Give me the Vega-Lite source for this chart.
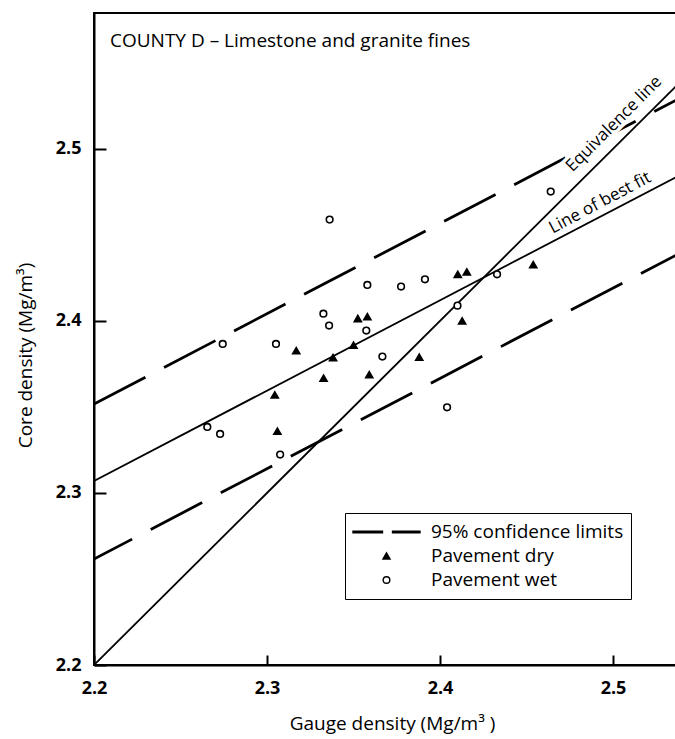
{
  "$schema": "https://vega.github.io/schema/vega-lite/v6.json",
  "width": 583,
  "height": 652,
  "autosize": {"type": "none"},
  "padding": {"left": 94, "top": 13, "right": 0, "bottom": 74},
  "background": "white",
  "view": {"stroke": "black", "strokeWidth": 2},
  "config": {"font": "Open Sans"},
  "title": {
    "text": "COUNTY D – Limestone and granite fines",
    "anchor": "start",
    "frame": "group",
    "orient": "top",
    "offset": -53,
    "dx": 16,
    "baseline": "alphabetic",
    "fontSize": 19,
    "fontWeight": "normal",
    "font": "Open Sans",
    "color": "black"
  },
  "datasets": {
    "lines": [
      {"line": "Equivalence line", "gauge": 2.2, "core": 2.2},
      {"line": "Equivalence line", "gauge": 2.537, "core": 2.537},
      {"line": "Line of best fit", "gauge": 2.2, "core": 2.307},
      {"line": "Line of best fit", "gauge": 2.537, "core": 2.4839},
      {"line": "Upper 95% limit", "gauge": 2.2, "core": 2.3517},
      {"line": "Upper 95% limit", "gauge": 2.537, "core": 2.5286},
      {"line": "Lower 95% limit", "gauge": 2.2, "core": 2.2616},
      {"line": "Lower 95% limit", "gauge": 2.537, "core": 2.4385}
    ],
    "points": [
      {"condition": "Pavement wet", "gauge": 2.3326, "core": 2.4042},
      {"condition": "Pavement wet", "gauge": 2.3359, "core": 2.3973},
      {"condition": "Pavement wet", "gauge": 2.2744, "core": 2.3866},
      {"condition": "Pavement wet", "gauge": 2.3052, "core": 2.3866},
      {"condition": "Pavement wet", "gauge": 2.2655, "core": 2.3384},
      {"condition": "Pavement wet", "gauge": 2.2729, "core": 2.3343},
      {"condition": "Pavement wet", "gauge": 2.3076, "core": 2.3223},
      {"condition": "Pavement wet", "gauge": 2.358, "core": 2.4209},
      {"condition": "Pavement wet", "gauge": 2.3775, "core": 2.42},
      {"condition": "Pavement wet", "gauge": 2.3913, "core": 2.4242},
      {"condition": "Pavement wet", "gauge": 2.433, "core": 2.4271},
      {"condition": "Pavement wet", "gauge": 2.3574, "core": 2.3944},
      {"condition": "Pavement wet", "gauge": 2.4101, "core": 2.4089},
      {"condition": "Pavement wet", "gauge": 2.3667, "core": 2.3793},
      {"condition": "Pavement wet", "gauge": 2.4041, "core": 2.3498},
      {"condition": "Pavement wet", "gauge": 2.464, "core": 2.4752},
      {"condition": "Pavement wet", "gauge": 2.3362, "core": 2.4589},
      {"condition": "Pavement dry", "gauge": 2.3169, "core": 2.3827},
      {"condition": "Pavement dry", "gauge": 2.3382, "core": 2.3787},
      {"condition": "Pavement dry", "gauge": 2.3327, "core": 2.3667},
      {"condition": "Pavement dry", "gauge": 2.3045, "core": 2.357},
      {"condition": "Pavement dry", "gauge": 2.306, "core": 2.3359},
      {"condition": "Pavement dry", "gauge": 2.4103, "core": 2.4271},
      {"condition": "Pavement dry", "gauge": 2.4155, "core": 2.4285},
      {"condition": "Pavement dry", "gauge": 2.3525, "core": 2.4014},
      {"condition": "Pavement dry", "gauge": 2.358, "core": 2.4025},
      {"condition": "Pavement dry", "gauge": 2.4128, "core": 2.4},
      {"condition": "Pavement dry", "gauge": 2.35, "core": 2.3859},
      {"condition": "Pavement dry", "gauge": 2.388, "core": 2.3789},
      {"condition": "Pavement dry", "gauge": 2.3591, "core": 2.3688},
      {"condition": "Pavement dry", "gauge": 2.4539, "core": 2.4327}
    ],
    "labelEquivalence": [{"gauge": 2.5006, "core": 2.5145, "label": "Equivalence line"}],
    "labelBestFit": [{"gauge": 2.4925, "core": 2.4686, "label": "Line of best fit"}]
  },
  "layer": [
    {
      "data": {"name": "lines"},
      "transform": [{"filter": "datum.line === 'Equivalence line' || datum.line === 'Line of best fit'"}],
      "mark": {"type": "line", "color": "black", "strokeWidth": 1.8, "clip": true},
      "encoding": {
        "x": {
          "field": "gauge", "type": "quantitative",
          "scale": {"domain": [2.2, 2.537], "nice": false, "zero": false},
          "axis": {
            "values": [2.2, 2.3, 2.4, 2.5], "format": ".1f", "grid": false,
            "domainColor": "black", "domainWidth": 2,
            "tickColor": "black", "tickWidth": 2, "tickSize": -10,
            "labelFont": "Open Sans", "labelFontSize": 18, "labelFontWeight": "bold", "labelColor": "black",
            "labelPadding": 24, "labelFlush": false,
            "title": "Gauge density (Mg/m³ )",
            "titleFont": "Open Sans", "titleFontSize": 19, "titleFontWeight": "normal", "titleColor": "black",
            "titleX": 298, "titleY": 58, "titleBaseline": "middle", "titleAlign": "center"
          }
        },
        "y": {
          "field": "core", "type": "quantitative",
          "scale": {"domain": [2.2, 2.579], "nice": false, "zero": false},
          "axis": {
            "values": [2.2, 2.3, 2.4, 2.5], "format": ".1f", "grid": false,
            "domainColor": "black", "domainWidth": 2,
            "tickColor": "black", "tickWidth": 2, "tickSize": -12,
            "labelFont": "Open Sans", "labelFontSize": 18, "labelFontWeight": "bold", "labelColor": "black",
            "labelPadding": 25, "labelFlush": false,
            "title": "Core density (Mg/m³)",
            "titleFont": "Open Sans", "titleFontSize": 19, "titleFontWeight": "normal", "titleColor": "black",
            "titleX": -69, "titleY": 342, "titleBaseline": "middle", "titleAlign": "center", "titleAngle": 270
          }
        },
        "detail": {"field": "line", "type": "nominal"}
      }
    },
    {
      "data": {"name": "lines"},
      "transform": [{"filter": "datum.line === 'Upper 95% limit'"}],
      "mark": {"type": "line", "color": "black", "strokeWidth": 2.8, "strokeDash": [58, 21], "strokeDashOffset": 0, "clip": true},
      "encoding": {
        "x": {"field": "gauge", "type": "quantitative"},
        "y": {"field": "core", "type": "quantitative"}
      }
    },
    {
      "data": {"name": "lines"},
      "transform": [{"filter": "datum.line === 'Lower 95% limit'"}],
      "mark": {"type": "line", "color": "black", "strokeWidth": 2.8, "strokeDash": [58, 21], "strokeDashOffset": 15, "clip": true},
      "encoding": {
        "x": {"field": "gauge", "type": "quantitative"},
        "y": {"field": "core", "type": "quantitative"}
      }
    },
    {
      "data": {"name": "points"},
      "mark": {"type": "point", "filled": true, "stroke": "black", "strokeWidth": 1.6, "opacity": 1},
      "encoding": {
        "x": {"field": "gauge", "type": "quantitative"},
        "y": {"field": "core", "type": "quantitative"},
        "shape": {
          "field": "condition", "type": "nominal",
          "scale": {
            "domain": ["95% confidence limits", "Pavement dry", "Pavement wet"],
            "range": ["M-1,-0.022L-0.12,-0.022L-0.12,0.022L-1,0.022Z M0.18,-0.022L1,-0.022L1,0.022L0.18,0.022Z", "triangle-up", "circle"]
          },
          "legend": {
            "title": null, "orient": "none", "legendX": 251, "legendY": 500,
            "strokeColor": "black", "padding": 7, "clipHeight": 24, "rowPadding": 0,
            "labelFont": "Open Sans", "labelFontSize": 19, "labelColor": "black", "labelOffset": 10, "labelLimit": 400,
            "symbolStrokeWidth": 1.4, "symbolStrokeColor": "black", "symbolOpacity": 1,
            "encode": {"legend": {"update": {"strokeWidth": {"value": 1.5}}}}
          }
        },
        "fill": {
          "field": "condition", "type": "nominal",
          "scale": {
            "domain": ["95% confidence limits", "Pavement dry", "Pavement wet"],
            "range": ["black", "black", "white"]
          }
        },
        "size": {
          "field": "condition", "type": "nominal",
          "scale": {
            "type": "ordinal",
            "domain": ["95% confidence limits", "Pavement dry", "Pavement wet"],
            "range": [4489, 50, 44]
          }
        }
      }
    },
    {
      "data": {"name": "labelEquivalence"},
      "mark": {"type": "text", "angle": 315, "fontSize": 17, "font": "Open Sans", "color": "white", "stroke": "white", "strokeWidth": 7, "align": "center", "baseline": "middle"},
      "encoding": {
        "x": {"field": "gauge", "type": "quantitative"},
        "y": {"field": "core", "type": "quantitative"},
        "text": {"field": "label", "type": "nominal"}
      }
    },
    {
      "data": {"name": "labelEquivalence"},
      "mark": {"type": "text", "angle": 315, "fontSize": 17, "font": "Open Sans", "color": "black", "align": "center", "baseline": "middle"},
      "encoding": {
        "x": {"field": "gauge", "type": "quantitative"},
        "y": {"field": "core", "type": "quantitative"},
        "text": {"field": "label", "type": "nominal"}
      }
    },
    {
      "data": {"name": "labelBestFit"},
      "mark": {"type": "text", "angle": 332, "fontSize": 17, "font": "Open Sans", "color": "black", "align": "center", "baseline": "middle"},
      "encoding": {
        "x": {"field": "gauge", "type": "quantitative"},
        "y": {"field": "core", "type": "quantitative"},
        "text": {"field": "label", "type": "nominal"}
      }
    }
  ]
}
